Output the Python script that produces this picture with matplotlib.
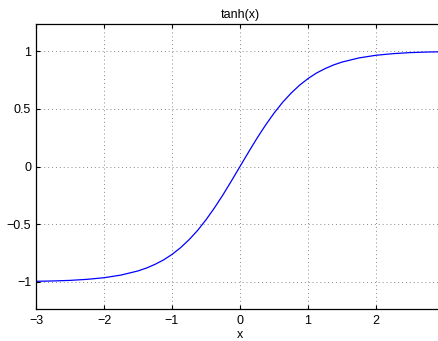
import matplotlib
matplotlib.use("Agg")
import matplotlib.pyplot as plt

# sampled points of the curve
x = [-3.0, -2.75, -2.5, -2.25, -2.0, -1.75, -1.5, -1.375, -1.25, -1.125, -1.0,
     -0.875, -0.75, -0.625, -0.5, -0.375, -0.25, -0.125, 0.0,
     0.125, 0.25, 0.375, 0.5, 0.625, 0.75, 0.875, 1.0, 1.125, 1.25, 1.375, 1.5,
     1.75, 2.0, 2.25, 2.5, 2.75, 2.95]
y = [-0.995, -0.992, -0.987, -0.978, -0.964, -0.941, -0.905, -0.880, -0.848, -0.810, -0.762,
     -0.704, -0.635, -0.555, -0.462, -0.358, -0.245, -0.124, 0.0,
     0.124, 0.245, 0.358, 0.462, 0.555, 0.635, 0.704, 0.762, 0.810, 0.848, 0.880, 0.905,
     0.941, 0.964, 0.978, 0.987, 0.992, 0.994]

xticks = [-3, -2, -1, 0, 1, 2]
yticks = [-1, -0.5, 0, 0.5, 1]
yticklabels = ['\u22121', '\u22120.5', '0', '0.5', '1']
xticklabels = ['\u22123', '\u22122', '\u22121', '0', '1', '2']

plt.rcParams['font.family'] = ['Liberation Sans', 'DejaVu Sans']

W, H = 439, 341
fig = plt.figure(figsize=(W / 100, H / 100), dpi=100)
# right edge of the axes falls just outside the figure
ax = fig.add_axes([36 / W, 1 - 309 / H, (444 - 36) / W, (309 - 24) / H])

ax.plot(x, y, color=(0, 0, 1), lw=0.9)
ax.set_xlim(-3, 3)
ax.set_ylim(-1.235, 1.235)
ax.set_xticks(xticks)
ax.set_xticklabels(xticklabels)
ax.set_yticks(yticks)
ax.set_yticklabels(yticklabels)
ax.tick_params(direction='in', top=True, right=True, length=3, labelsize=9, width=0.8)
ax.tick_params(axis='x', pad=4)
ax.grid(True, linestyle=(0, (1, 3)), color='#888888', lw=0.7)
for s in ax.spines.values():
    s.set_linewidth(0.9)

ax.set_title('tanh(x)', fontsize=9, pad=4)
ax.set_xlabel('x', fontsize=9, labelpad=1.5)

fig.savefig('out.png', dpi=100)
